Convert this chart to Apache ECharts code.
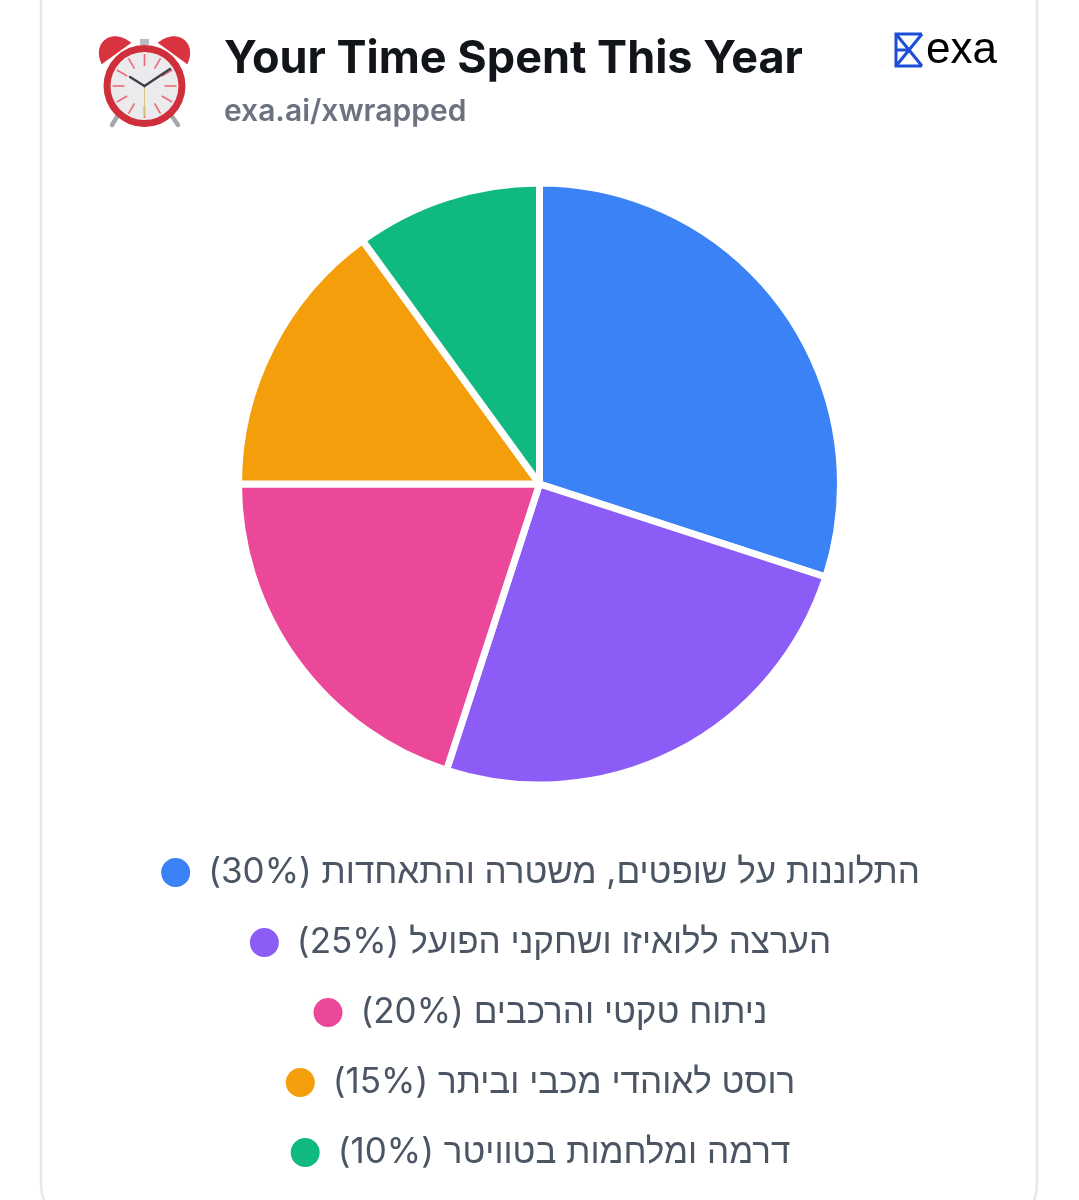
<!DOCTYPE html>
<html dir="rtl">
<head>
<meta charset="utf-8">
<style>
html, body { margin: 0; padding: 0; background: #fff; }
#chart { width: 1079px; height: 1200px; }
</style>
<script src="https://cdn.jsdelivr.net/npm/echarts@6/dist/echarts.min.js"></script>
</head>
<body>
<div id="chart"></div>
<script>
var categories = [
	'התלוננות על שופטים, משטרה והתאחדות',
	'הערצה ללואיזו ושחקני הפועל',
	'ניתוח טקטי והרכבים',
	'רוסט לאוהדי מכבי וביתר',
	'דרמה ומלחמות בטוויטר'
];
var percents = [30, 25, 20, 15, 10];
var colors = ['#3b82f6', '#8b5cf6', '#ec4899', '#f59e0b', '#10b981'];

var latinFont = 'Inter, "Liberation Sans", sans-serif';
var legendFont = 'Inter, "Liberation Sans", "Noto Sans", sans-serif';

// one legend per row so that every row is centred by itself
var legends = categories.map(function(name, i) {
	return {
		show: true,
		left: 'center',
		top: 850 + i * 70,
		itemWidth: 31,
		itemHeight: 31,
		itemGap: 0,
		icon: 'circle',
		selectedMode: false,
		data: [name],
		formatter: function(n) {
			return n + ' (' + percents[categories.indexOf(n)] + '%)';
		},
		textStyle: {
			color: '#4b5563',
			fontFamily: legendFont,
			fontSize: 35,
			padding: [0, 0, 0, 12]
		}
	};
});

// alarm clock icon, the original is an emoji
function clockIcon() {
	var cx = 144.5, cy = 86, items = [];
	var legStyle = { stroke: '#a4a8ad', lineWidth: 4.5, lineCap: 'round' };
	items.push({ type: 'line', shape: { x1: 120, y1: 112, x2: 112, y2: 125 }, style: legStyle });
	items.push({ type: 'line', shape: { x1: 169, y1: 112, x2: 178, y2: 125 }, style: legStyle });
	items.push({ type: 'rect', shape: { x: 140, y: 39, width: 9, height: 6 }, style: { fill: '#b9bcc2' } });
	items.push({ type: 'bezierCurve', shape: { x1: 102, y1: 64, cpx1: 92, cpy1: 42, cpx2: 112, cpy2: 28, x2: 131, y2: 43 }, style: { fill: '#d8333f', stroke: '#d8333f' } });
	items.push({ type: 'bezierCurve', shape: { x1: 187, y1: 64, cpx1: 197, cpy1: 42, cpx2: 177, cpy2: 28, x2: 158, y2: 43 }, style: { fill: '#d8333f', stroke: '#d8333f' } });
	items.push({ type: 'circle', shape: { cx: cx, cy: cy, r: 41 }, style: { fill: '#cf2f3a' } });
	items.push({ type: 'circle', shape: { cx: cx, cy: cy, r: 34 }, style: { fill: '#ebebed' } });
	for (var h = 0; h < 12; h++) {
		var a = h * Math.PI / 6;
		items.push({
			type: 'line',
			shape: {
				x1: cx + 20 * Math.sin(a), y1: cy - 20 * Math.cos(a),
				x2: cx + 32 * Math.sin(a), y2: cy - 32 * Math.cos(a)
			},
			style: { stroke: '#ee6a72', lineWidth: 1.6 }
		});
	}
	items.push({ type: 'line', shape: { x1: cx, y1: cy, x2: cx, y2: 116 }, style: { stroke: '#d9c27a', lineWidth: 1 } });
	items.push({ type: 'line', shape: { x1: cx, y1: cy, x2: 130, y2: 77 }, style: { stroke: '#3c4146', lineWidth: 2.4, lineCap: 'round' } });
	items.push({ type: 'line', shape: { x1: cx, y1: cy, x2: 170, y2: 69 }, style: { stroke: '#3c4146', lineWidth: 2.4, lineCap: 'round' } });
	return items;
}

// exa logo
function exaLogo() {
	var style = { stroke: '#1d4ed8', lineWidth: 3, fill: null };
	return [
		{ type: 'polyline', shape: { points: [[922, 34], [896, 34], [896, 66], [922, 66]] }, style: style },
		{ type: 'line', shape: { x1: 896, y1: 34, x2: 922, y2: 66 }, style: style },
		{ type: 'line', shape: { x1: 922, y1: 34, x2: 896, y2: 66 }, style: style },
		{ type: 'line', shape: { x1: 896, y1: 50, x2: 909, y2: 50 }, style: style },
		{
			type: 'text', x: 926, y: 51,
			style: { text: 'exa', fill: '#000', fontFamily: '"Liberation Sans", sans-serif', fontSize: 44, textAlign: 'left', textVerticalAlign: 'middle' }
		}
	];
}

var chartObj = echarts.init(document.getElementById('chart'));
var option = {
	backgroundColor: '#fff',
	animation: false,
	color: colors,
	title: {
		text: 'Your Time Spent This Year',
		subtext: 'exa.ai/xwrapped',
		left: 224,
		top: 37,
		padding: 0,
		itemGap: 15,
		textStyle: { color: '#111418', fontFamily: latinFont, fontWeight: 700, fontSize: 45 },
		subtextStyle: { color: '#6b7280', fontFamily: latinFont, fontWeight: 600, fontSize: 30 }
	},
	legend: legends,
	tooltip: { show: false },
	graphic: [
		{
			type: 'rect', z: -1,
			shape: { x: 41, y: -40, width: 996, height: 1265, r: 40 },
			style: { fill: '#fff', stroke: '#e5e7eb', lineWidth: 2.5 }
		}
	].concat(clockIcon(), exaLogo()),
	series: [{
		type: 'pie',
		center: [539.5, 484],
		radius: [0, 301],
		startAngle: 90,
		label: { show: false },
		labelLine: { show: false },
		silent: true,
		itemStyle: { borderColor: '#fff', borderWidth: 7 },
		data: categories.map(function(name, i) {
			return { name: name, value: percents[i] };
		})
	}]
};
chartObj.setOption(option);
</script>
</body>
</html>
